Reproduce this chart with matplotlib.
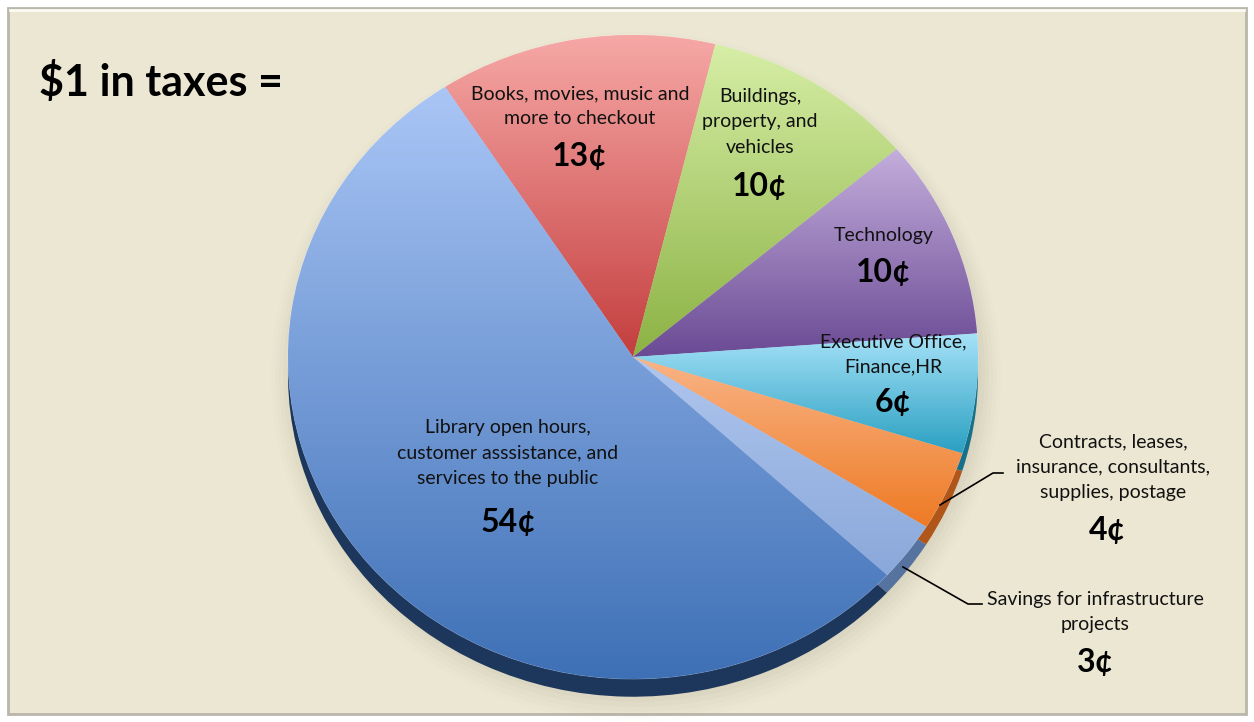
import numpy as np
import matplotlib
matplotlib.use('Agg')
import matplotlib.pyplot as plt
from matplotlib.colors import LinearSegmentedColormap
from matplotlib.patches import Rectangle, Ellipse

plt.rcParams['font.family'] = ['Lato', 'DejaVu Sans']

# где уходит каждый доллар налогов
labels = ['Books, movies, music and\nmore to checkout',
          'Buildings,\nproperty, and\nvehicles',
          'Technology',
          'Executive Office,\nFinance,HR',
          'Contracts, leases,\ninsurance, consultants,\nsupplies, postage',
          'Savings for infrastructure\nprojects',
          'Library open hours,\ncustomer asssistance, and\nservices to the public']
cents = [13, 10, 10, 6, 4, 3, 54]

# цвета: светлый верх, тёмный низ, бортик
top_colors = ['#F6A8A6', '#D6EEA6', '#C4AEDC', '#A6E2F8', '#F9B486', '#AFC6EE', '#AAC6F6']
bottom_colors = ['#C43E3E', '#8CB244', '#6A4A94', '#2AA0C2', '#EE7A24', '#8AA8DA', '#3E70B6']
rim_colors = ['#8A2A2A', '#5E7E2A', '#45306A', '#17708A', '#B0561A', '#56729E', '#1C365C']

# позиции подписей (пиксели)
label_xy = [(580, 106), (760, 122), (884, 236), (893, 354), (1113, 467), (1095, 612), (508, 453)]
value_xy = [(580, 157), (760, 186), (884, 273), (893, 402), (1107, 530), (1095, 662), (508, 522)]

W, H = 1254, 722
fig = plt.figure(figsize=(W / 100, H / 100), dpi=100)
fig.patch.set_facecolor('white')

# фон
bg = fig.add_axes([0, 0, 1, 1], zorder=0)
bg.set_xlim(0, W)
bg.set_ylim(H, 0)
bg.axis('off')
bg.add_patch(Rectangle((8, 8), W - 16, H - 16, facecolor='#ECE7D3', edgecolor='#B9B6AA', lw=2))
bg.plot([10, W - 10], [10, 10], color='#FBFAF3', lw=2)
# мягкая тень под пирогом
for i, a in enumerate(np.linspace(0.05, 0.015, 6)):
    bg.add_patch(Ellipse((636, 372 + i), 690 + 8 * i, 650 + 8 * i, facecolor='#8F8A72', alpha=a, lw=0))

# пирог
cx, cy, rx, ry = 633, 357, 345, 322
ext = 0.07
left = (cx - rx) / W
top_px = cy - ry
bot_px = cy + ry * (1 + ext)
ax = fig.add_axes([left, (H - bot_px) / H, 2 * rx / W, (bot_px - top_px) / H], zorder=1)

drop = 0.055
rim, _ = ax.pie(cents, startangle=123, counterclock=False, colors=rim_colors,
                center=(0, -drop), wedgeprops=dict(lw=0))
wedges, _ = ax.pie(cents, startangle=123, counterclock=False, colors=top_colors,
                   wedgeprops=dict(lw=0.6, edgecolor=(1, 1, 1, 0.35)))

for w, c0, c1 in zip(wedges, top_colors, bottom_colors):
    bb = w.get_path().get_extents()
    cmap = LinearSegmentedColormap.from_list('g', [c1, c0])
    grad = np.linspace(0, 1, 256).reshape(-1, 1)
    im = ax.imshow(grad, cmap=cmap, origin='lower', aspect='auto',
                   extent=[bb.x0, bb.x1, bb.y0, bb.y1], zorder=2, interpolation='bilinear')
    im.set_clip_path(w)

ax.set_aspect('auto')
ax.set_xlim(-1, 1)
ax.set_ylim(-1 - ext, 1)
ax.axis('off')

# подписи
ov = fig.add_axes([0, 0, 1, 1], zorder=3)
ov.set_xlim(0, W)
ov.set_ylim(H, 0)
ov.axis('off')
ov.patch.set_alpha(0)

ov.text(39, 82, '$1 in taxes =', fontsize=31, fontweight='bold', ha='left', va='center')
for lab, (x, y) in zip(labels, label_xy):
    ov.text(x, y, lab, fontsize=14, ha='center', va='center', linespacing=1.58, color='#111111')
for v, (x, y) in zip(cents, value_xy):
    ov.text(x, y, f'{v}¢', fontsize=23, fontweight='bold', ha='center', va='center')

# выноски для маленьких секторов
ov.plot([940, 993, 1003], [505, 473, 473], color='black', lw=1.2)
ov.plot([903, 968, 982], [567, 604, 604], color='black', lw=1.2)

fig.savefig('out.png', dpi=100, facecolor=fig.get_facecolor())
